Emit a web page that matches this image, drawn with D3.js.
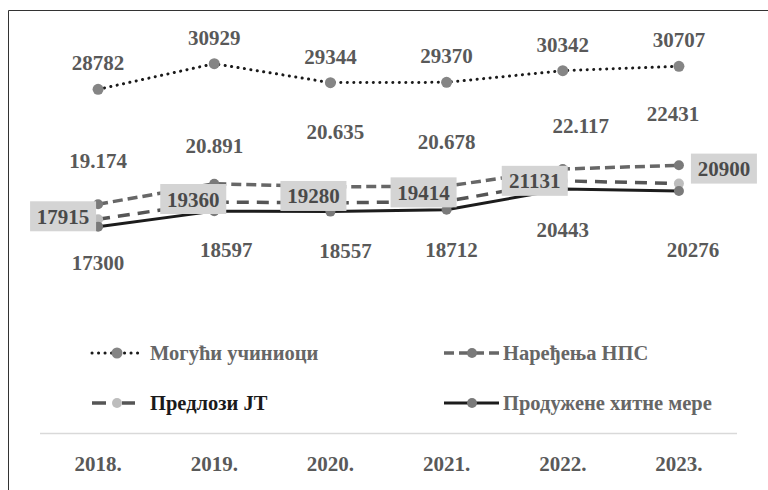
<!DOCTYPE html>
<html>
<head>
<meta charset="utf-8">
<script src="https://cdn.jsdelivr.net/npm/d3@7"></script>
<style>
  body { margin: 0; background: #fff; }
</style>
</head>
<body>
<script>
// podaci
const years = ["2018.", "2019.", "2020.", "2021.", "2022.", "2023."];
const moguci = [28782, 30929, 29344, 29370, 30342, 30707];
const naredjenja = [19174, 20891, 20635, 20678, 22117, 22431];
const predlozi = [17915, 19360, 19280, 19414, 21131, 20900];
const produzene = [17300, 18597, 18557, 18712, 20443, 20276];
const naredjenjaText = ["19.174", "20.891", "20.635", "20.678", "22.117", "22431"];

// pomeraji etiketa (rucno razmestene kao u originalu)
const naredjenjaDy = [-36, -31, -48, -37, -36, -44];
const naredjenjaDx = [0, 0, 5, 0, 18, -6];
const predloziDx = [-35, -21, -17, -23, -28, 45];
const predloziDy = [-3, -3, -7, -9, 0, -15];
const produzeneDx = [0, 12, 15, 5, 0, 14];
const produzeneDy = [43, 46, 46, 47, 48, 66];

const W = 768, H = 490;
const FONT = "'Liberation Serif', 'DejaVu Serif', 'Times New Roman', Times, serif";

const svg = d3.create("svg")
    .attr("width", W)
    .attr("height", H)
    .attr("font-family", FONT)
    .attr("font-weight", "bold");

// okvir
svg.append("path")
    .attr("d", `M8.5,${H} V10.5 H${W}`)
    .attr("fill", "none")
    .attr("stroke", "#333")
    .attr("stroke-width", 1);

const x = d3.scaleBand().domain(years).range([40, 737]);
const y = d3.scaleLinear().domain([0, 35000]).range([433.5, 15]);
const cx = (d, i) => x(years[i]) + x.bandwidth() / 2;

// x osa
svg.append("line")
    .attr("x1", 40).attr("x2", 737)
    .attr("y1", 433.5).attr("y2", 433.5)
    .attr("stroke", "#d9d9d9").attr("stroke-width", 1.5);

svg.append("g")
    .selectAll("text")
    .data(years)
    .join("text")
    .attr("x", d => x(d) + x.bandwidth() / 2)
    .attr("y", 471)
    .attr("text-anchor", "middle")
    .attr("font-size", 21)
    .attr("fill", "#595959")
    .text(d => d);

const series = [
    { name: "Могући учиниоци", values: moguci, stroke: "#1a1a1a", width: 3, dash: "0.1,6.4", cap: "round", marker: "#858585", r: 5.5 },
    { name: "Наређења НПС", values: naredjenja, stroke: "#676767", width: 3.5, dash: "10,5", cap: "butt", marker: "#7a7a7a", r: 5 },
    { name: "Предлози ЈТ", values: predlozi, stroke: "#555", width: 3.5, dash: "12,8", cap: "butt", marker: "#bdbdbd", r: 5 },
    { name: "Продужене хитне мере", values: produzene, stroke: "#1c1c1c", width: 3, dash: null, cap: "butt", marker: "#7a7a7a", r: 5 }
];

const line = d3.line().x(cx).y(d => y(d));

// linije
svg.append("g")
    .selectAll("path")
    .data(series)
    .join("path")
    .attr("d", s => line(s.values))
    .attr("fill", "none")
    .attr("stroke", s => s.stroke)
    .attr("stroke-width", s => s.width)
    .attr("stroke-dasharray", s => s.dash)
    .attr("stroke-linecap", s => s.cap);

// markeri
series.forEach(s => {
    svg.append("g")
        .selectAll("circle")
        .data(s.values)
        .join("circle")
        .attr("cx", cx)
        .attr("cy", d => y(d))
        .attr("r", s.r)
        .attr("fill", s.marker);
});

const labelStyle = sel => sel
    .attr("text-anchor", "middle")
    .attr("font-size", 21)
    .attr("fill", "#595959");

// Могући учиниоци - iznad
svg.append("g").selectAll("text")
    .data(moguci)
    .join("text")
    .call(labelStyle)
    .attr("x", cx)
    .attr("y", d => y(d) - 19)
    .text(d => d);

// Наређења НПС
svg.append("g").selectAll("text")
    .data(naredjenja)
    .join("text")
    .call(labelStyle)
    .attr("x", (d, i) => cx(d, i) + naredjenjaDx[i])
    .attr("y", (d, i) => y(d) + naredjenjaDy[i])
    .text((d, i) => naredjenjaText[i]);

// Продужене хитне мере - ispod
svg.append("g").selectAll("text")
    .data(produzene)
    .join("text")
    .call(labelStyle)
    .attr("x", (d, i) => cx(d, i) + produzeneDx[i])
    .attr("y", (d, i) => y(d) + produzeneDy[i])
    .text(d => d);

// Предлози ЈТ - u sivim kutijama
const box = svg.append("g").selectAll("g")
    .data(predlozi)
    .join("g")
    .attr("transform", (d, i) => `translate(${cx(d, i) + predloziDx[i]},${y(d) + predloziDy[i]})`);

box.append("rect")
    .attr("x", -33).attr("y", -15)
    .attr("width", 66).attr("height", 30)
    .attr("fill", "#d4d4d4");

box.append("text")
    .call(labelStyle)
    .attr("fill", "#4a4a4a")
    .attr("y", 7.5)
    .text(d => d);

// legenda
const legendPos = [[92, 353], [444, 353], [92, 403], [444, 403]];
const legendText = ["#666", "#666", "#1a1a1a", "#666"];
const legendLen = [51, 55, 43, 55];

const lg = svg.append("g").selectAll("g")
    .data(series)
    .join("g")
    .attr("transform", (s, i) => `translate(${legendPos[i][0]},${legendPos[i][1]})`);

lg.append("line")
    .attr("x1", 0).attr("x2", (s, i) => legendLen[i])
    .attr("stroke", s => s.stroke)
    .attr("stroke-width", s => s.width)
    .attr("stroke-dasharray", (s, i) => i === 2 ? "14,16" : s.dash)
    .attr("stroke-linecap", s => s.cap);

lg.append("circle")
    .attr("cx", (s, i) => i % 2 ? 28 : 25)
    .attr("r", s => s.r)
    .attr("fill", s => s.marker);

lg.append("text")
    .attr("x", (s, i) => i % 2 ? 59 : 58)
    .attr("y", 7)
    .attr("font-size", 20.5)
    .attr("fill", (s, i) => legendText[i])
    .text(s => s.name);

document.body.appendChild(svg.node());
</script>
</body>
</html>
